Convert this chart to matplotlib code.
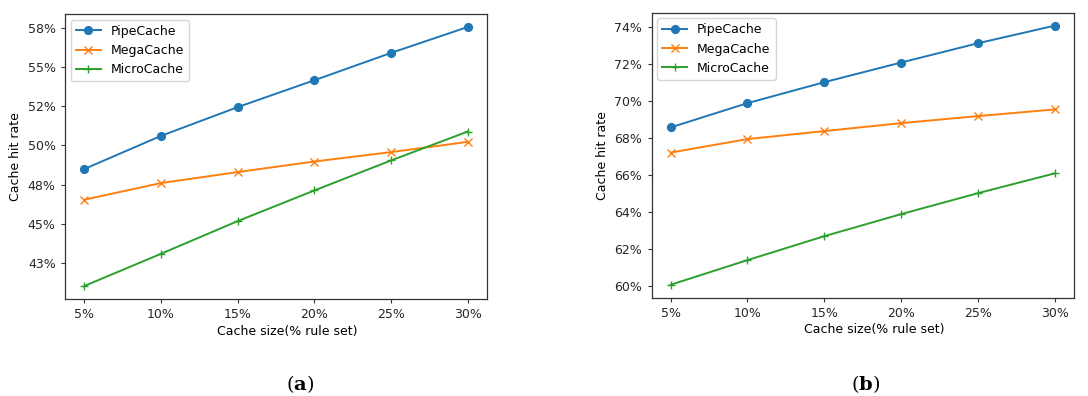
import matplotlib
matplotlib.use("Agg")
import matplotlib.pyplot as plt
import matplotlib.ticker as mtick

# Cache size (% of rule set)
cache_sizes = [5, 10, 15, 20, 25, 30]
x_tick_labels = ["5%", "10%", "15%", "20%", "25%", "30%"]

# panel (a) hit rates, %
pipe_a = [48.50, 50.61, 52.44, 54.15, 55.89, 57.54]
mega_a = [46.55, 47.61, 48.31, 48.98, 49.58, 50.23]
micro_a = [41.06, 43.11, 45.19, 47.14, 49.05, 50.89]
y_ticks_a = [42.5, 45, 47.5, 50, 52.5, 55, 57.5]
y_labels_a = ["43%", "45%", "48%", "50%", "52%", "55%", "58%"]

# panel (b) hit rates, %
pipe_b = [68.58, 69.89, 71.02, 72.08, 73.12, 74.07]
mega_b = [67.22, 67.95, 68.38, 68.81, 69.19, 69.55]
micro_b = [60.09, 61.42, 62.71, 63.90, 65.03, 66.10]
y_ticks_b = [60, 62, 64, 66, 68, 70, 72, 74]
y_labels_b = ["60%", "62%", "64%", "66%", "68%", "70%", "72%", "74%"]

plt.rcParams['font.size'] = 9
plt.rcParams['mathtext.fontset'] = 'custom'
plt.rcParams['mathtext.rm'] = 'DejaVu Serif'
plt.rcParams['mathtext.bf'] = 'DejaVu Serif:bold'

dpi = 100
fig = plt.figure(figsize=(1088 / dpi, 396 / dpi), dpi=dpi)

def draw_panel(rect, pipe, mega, micro, yticks, ylabels):
    ax = fig.add_axes(rect)
    ax.plot(cache_sizes, pipe, marker='o', color='#1f77b4', lw=1.4, ms=5.6, label='PipeCache')
    ax.plot(cache_sizes, mega, marker='x', color='#ff7f0e', lw=1.4, ms=5.6, label='MegaCache')
    ax.plot(cache_sizes, micro, marker='+', color='#2ca02c', lw=1.4, ms=5.6, label='MicroCache')
    ax.set_xticks(cache_sizes)
    ax.set_xticklabels(x_tick_labels)
    ax.yaxis.set_major_locator(mtick.FixedLocator(yticks))
    ax.set_yticklabels(ylabels)
    ax.set_xlabel('Cache size(% rule set)')
    ax.xaxis.set_label_coords(0.527, -0.09)
    ax.set_ylabel('Cache hit rate')
    for s in ax.spines.values():
        s.set_linewidth(0.9)
        s.set_color('#333333')
    ax.tick_params(colors='#333333', labelcolor='#262626', length=3.2, width=0.8)
    ax.legend(loc='upper left', fontsize=9, borderaxespad=0.45)
    return ax

draw_panel([65 / 1088, 97 / 396, 422 / 1088, 285 / 396],
           pipe_a, mega_a, micro_a, y_ticks_a, y_labels_a)
draw_panel([651.5 / 1088, 98.3 / 396, 422.4 / 1088, 285 / 396],
           pipe_b, mega_b, micro_b, y_ticks_b, y_labels_b)

fig.text(0.2757, 0.03, r'($\mathbf{a}$)', ha='center', va='center',
         fontsize=14, family='DejaVu Serif')
fig.text(0.796, 0.03, r'($\mathbf{b}$)', ha='center', va='center',
         fontsize=14, family='DejaVu Serif')

fig.savefig('out.png', dpi=dpi)
